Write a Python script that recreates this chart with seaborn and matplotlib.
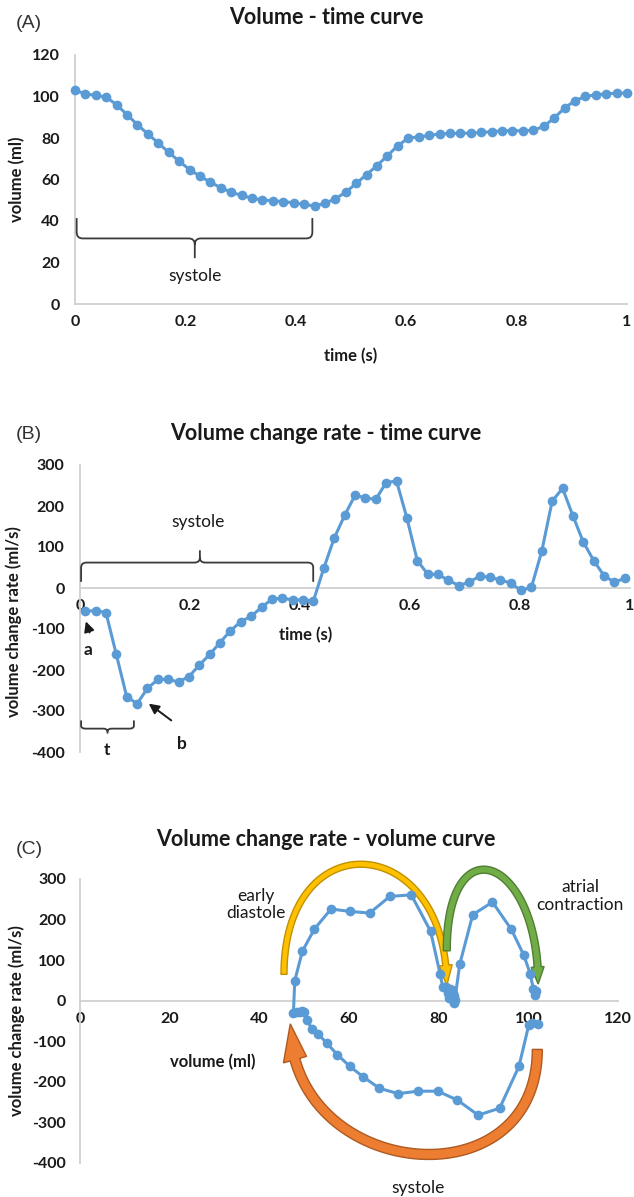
import numpy as np
import pandas as pd
import seaborn as sns
import matplotlib.pyplot as plt
from matplotlib.path import Path
from matplotlib.patches import PathPatch, Polygon

# frame times (s) over one cardiac cycle
time_s = [0.0, 0.0189, 0.0377, 0.0566, 0.0755, 0.0943, 0.1132, 0.1321, 0.1509, 0.1698,
          0.1887, 0.2075, 0.2264, 0.2453, 0.2642, 0.2830, 0.3019, 0.3208, 0.3396, 0.3585,
          0.3774, 0.3962, 0.4151, 0.4340, 0.4528, 0.4717, 0.4906, 0.5094, 0.5283, 0.5472,
          0.5660, 0.5849, 0.6038, 0.6226, 0.6415, 0.6604, 0.6792, 0.6981, 0.7170, 0.7358,
          0.7547, 0.7736, 0.7925, 0.8113, 0.8302, 0.8491, 0.8679, 0.8868, 0.9057, 0.9245,
          0.9434, 0.9623, 0.9811, 1.0]

# LV volume (ml)
volume_ml = [102.9, 101.3, 100.5, 99.7, 96.0, 91.2, 86.4, 81.9, 77.6, 73.1,
             68.8, 64.8, 61.6, 58.7, 56.0, 53.9, 52.3, 51.0, 50.1, 49.8,
             49.3, 48.8, 48.0, 47.2, 48.5, 50.7, 53.9, 58.1, 62.4, 66.7,
             71.5, 76.3, 80.0, 80.5, 81.3, 81.9, 82.2, 82.2, 82.4, 82.7,
             83.0, 83.5, 83.5, 83.5, 83.7, 85.6, 89.6, 94.4, 98.0, 100.0,
             100.8, 101.3, 101.6, 101.6]

# mid-frame times (s) for the rate curve
time_mid_s = [0.0094, 0.0283, 0.0472, 0.0660, 0.0849, 0.1038, 0.1226, 0.1415, 0.1604, 0.1792,
              0.1981, 0.2170, 0.2358, 0.2547, 0.2736, 0.2925, 0.3113, 0.3302, 0.3491, 0.3679,
              0.3868, 0.4057, 0.4245, 0.4434, 0.4623, 0.4811, 0.5000, 0.5189, 0.5377, 0.5566,
              0.5755, 0.5943, 0.6132, 0.6321, 0.6509, 0.6698, 0.6887, 0.7075, 0.7264, 0.7453,
              0.7642, 0.7830, 0.8019, 0.8208, 0.8396, 0.8585, 0.8774, 0.8962, 0.9151, 0.9340,
              0.9528, 0.9717, 0.9906]

# volume change rate (ml/s)
rate_mls = [-57, -55, -60, -162, -265, -282, -245, -223, -223, -229,
            -216, -188, -162, -133, -104, -82, -69, -47, -27, -25,
            -29, -29, -31, 49, 122, 177, 226, 220, 216, 257,
            261, 171, 67, 34, 33, 19, 6, 14, 29, 26,
            20, 12, -6, 2, 90, 212, 243, 176, 112, 67,
            30, 14, 24]

# mid-frame volumes (ml) for the rate - volume loop
volume_mid_ml = [102.1, 100.9, 100.1, 97.9, 93.6, 88.8, 84.2, 79.8, 75.4, 71.0,
                 66.8, 63.2, 60.2, 57.4, 55.0, 53.1, 51.7, 50.6, 50.0, 49.6,
                 49.1, 48.4, 47.6, 47.9, 49.6, 52.3, 56.0, 60.3, 64.6, 69.1,
                 73.9, 78.2, 80.3, 80.9, 81.6, 82.1, 82.2, 82.3, 82.6, 82.9,
                 83.3, 83.5, 83.5, 83.6, 84.7, 87.6, 92.0, 96.2, 99.0, 100.4,
                 101.1, 101.5, 101.6]

time_ticks = [0, 0.2, 0.4, 0.6, 0.8, 1]
time_labels = ['0', '0.2', '0.4', '0.6', '0.8', '1']

sns.set_style("white")
plt.rcParams['font.family'] = ['Lato', 'DejaVu Sans']

BLUE = '#5B9BD5'
GREY = '#D0D0D0'
TXT = '#1a1a1a'
W, H = 634, 1197

fig = plt.figure(figsize=(W / 100, H / 100), dpi=100)


def px_axes(x0, x1, ytop, ybot):
    return fig.add_axes([x0 / W, 1 - ybot / H, (x1 - x0) / W, (ybot - ytop) / H])


def style(ax, xpad, ypad):
    for s in ['top', 'right']:
        ax.spines[s].set_visible(False)
    for s in ['left', 'bottom']:
        ax.spines[s].set_color(GREY)
        ax.spines[s].set_linewidth(1.3)
    ax.tick_params(length=0, labelsize=11.5, labelcolor=TXT)
    ax.tick_params(axis='x', pad=xpad)
    ax.tick_params(axis='y', pad=ypad)


def curve(ax, df, x, y, sort=True):
    sns.lineplot(data=df, x=x, y=y, ax=ax, color=BLUE, marker='o', markersize=7,
                 markeredgewidth=0, linewidth=2.2, estimator=None, sort=sort,
                 legend=False, zorder=3, clip_on=False)


def labels(ax, xl, yl, xpos, ypos):
    ax.set_xlabel(xl, fontsize=12, fontweight='bold', color=TXT)
    ax.set_ylabel(yl, fontsize=12, fontweight='bold', color=TXT)
    ax.xaxis.label.set_verticalalignment('center')
    ax.yaxis.label.set_verticalalignment('center')
    ax.xaxis.set_label_coords(*xpos)
    ax.yaxis.set_label_coords(*ypos)


def brace(ax, x0, x1, xm, y_end, y_bar, y_tip, rx, ry):
    d = 1 if y_bar > y_end else -1
    verts = [(x0, y_end), (x0, y_bar - d * ry), (x0, y_bar), (x0 + rx, y_bar),
             (xm - rx, y_bar), (xm, y_bar), (xm, y_bar + d * ry), (xm, y_tip),
             (x1, y_end), (x1, y_bar - d * ry), (x1, y_bar), (x1 - rx, y_bar),
             (xm + rx, y_bar), (xm, y_bar), (xm, y_bar + d * ry)]
    codes = [Path.MOVETO, Path.LINETO, Path.CURVE3, Path.CURVE3, Path.LINETO,
             Path.CURVE3, Path.CURVE3, Path.LINETO,
             Path.MOVETO, Path.LINETO, Path.CURVE3, Path.CURVE3, Path.LINETO,
             Path.CURVE3, Path.CURVE3]
    ax.add_patch(PathPatch(Path(verts, codes), fc='none', ec='#3a3a3a', lw=1.3,
                           clip_on=False, zorder=4))


def arc_arrow(ax, start, end, apex_y, shaft, head_w, head_len, fc, ec):
    T = ax.transData
    p0 = T.transform(start)
    p3 = T.transform(end)
    apex = T.transform((0, apex_y))[1]
    k = (apex - (p0[1] + p3[1]) / 2) / 0.75
    c1 = p0 + [0, k]
    c2 = p3 + [0, k]
    t = np.linspace(0, 1, 500)[:, None]
    pts = (1 - t) ** 3 * p0 + 3 * (1 - t) ** 2 * t * c1 + 3 * (1 - t) * t ** 2 * c2 + t ** 3 * p3
    s = np.concatenate([[0], np.cumsum(np.hypot(*np.diff(pts, axis=0).T))])
    body = pts[s <= s[-1] - head_len]
    dv = np.gradient(body, axis=0)
    n = np.stack([-dv[:, 1], dv[:, 0]], axis=1)
    n /= np.linalg.norm(n, axis=1)[:, None]
    left = body + n * shaft / 2
    right = body - n * shaft / 2
    base, nb = body[-1], n[-1]
    head = [base + nb * head_w / 2, p3, base - nb * head_w / 2]
    poly = np.vstack([left, head, right[::-1]])
    ax.add_patch(Polygon(T.inverted().transform(poly), closed=True, fc=fc, ec=ec,
                         lw=1.0, zorder=2, clip_on=False))


# ---------- (A) volume - time ----------
axA = px_axes(75, 627, 55, 304)
curve(axA, pd.DataFrame({'time': time_s, 'volume': volume_ml}), 'time', 'volume')
axA.set_xlim(0, 1)
axA.set_ylim(0, 120)
axA.set_xticks(time_ticks, time_labels, fontweight='bold')
axA.set_yticks(range(0, 121, 20), [str(v) for v in range(0, 121, 20)], fontweight='bold')
style(axA, 8, 11)
labels(axA, 'time (s)', 'volume (ml)', (0.5, -0.21), (-0.105, 0.5))
brace(axA, 0.003, 0.43, 0.217, 41.4, 31.6, 22.1, 0.011, 3.0)
axA.text(0.217, 13.6, 'systole', ha='center', va='center', fontsize=12.5, color=TXT)

# ---------- (B) volume change rate - time ----------
axB = px_axes(80, 630, 465, 752)
curve(axB, pd.DataFrame({'time': time_mid_s, 'rate': rate_mls}), 'time', 'rate')
axB.set_xlim(0, 1)
axB.set_ylim(-400, 300)
axB.spines['bottom'].set_position(('data', 0))
axB.set_xticks(time_ticks, time_labels, fontweight='bold')
axB.set_yticks(range(-400, 301, 100), [str(v) for v in range(-400, 301, 100)], fontweight='bold')
style(axB, 8, 11)
labels(axB, 'time (s)', 'volume change rate (ml/s)', (0.411, 0.408), (-0.12, 0.453))
brace(axB, 0.002, 0.424, 0.218, 15, 62, 92, 0.010, 12)
axB.text(0.215, 161, 'systole', ha='center', va='center', fontsize=12.5, color=TXT)
brace(axB, 0.002, 0.098, 0.05, -323, -343, -355, 0.008, 7)
axB.text(0.05, -396, 't', ha='center', va='center', fontsize=12.5, fontweight='bold',
         color=TXT, clip_on=False)
axB.annotate('', xy=(0.009, -75), xytext=(0.019, -115),
             arrowprops=dict(arrowstyle='-|>', color='#1a1a1a', lw=1.4, mutation_scale=15))
axB.text(0.015, -152, 'a', ha='center', va='center', fontsize=12.5, fontweight='bold', color=TXT)
axB.annotate('', xy=(0.121, -278), xytext=(0.170, -327),
             arrowprops=dict(arrowstyle='-|>', color='#1a1a1a', lw=1.4, mutation_scale=15))
axB.text(0.185, -380, 'b', ha='center', va='center', fontsize=12.5, fontweight='bold', color=TXT)

# ---------- (C) volume change rate - volume ----------
axC = px_axes(80, 618, 879, 1163)
axC.set_xlim(0, 120)
axC.set_ylim(-400, 300)
curve(axC, pd.DataFrame({'volume': volume_mid_ml, 'rate': rate_mls}), 'volume', 'rate', sort=False)
axC.spines['bottom'].set_position(('data', 0))
axC.set_xticks(range(0, 121, 20), [str(v) for v in range(0, 121, 20)], fontweight='bold')
axC.set_yticks(range(-400, 301, 100), [str(v) for v in range(-400, 301, 100)], fontweight='bold')
style(axC, 8, 10)
labels(axC, 'volume (ml)', 'volume change rate (ml/s)', (0.247, 0.356), (-0.118, 0.5))
fig.canvas.draw()
arc_arrow(axC, (45.5, 65), (81.8, 37), 336, 6, 13, 20, '#FFC000', '#C09000')
arc_arrow(axC, (81.8, 123), (102.2, 41), 319, 7, 13, 17, '#70AD47', '#507E32')
arc_arrow(axC, (102.0, -120), (46.9, -57), -377, 10, 24, 36, '#ED7D31', '#AE5A21')
axC.text(39.2, 238, 'early\ndiastole', ha='center', va='center', fontsize=12.5,
         color=TXT, linespacing=1.1)
axC.text(111.5, 258, 'atrial\ncontraction', ha='center', va='center', fontsize=12.5,
         color=TXT, linespacing=1.1, clip_on=False)
axC.text(75.5, -462, 'systole', ha='center', va='center', fontsize=12.5, color=TXT,
         clip_on=False)

# titles and panel letters
for y_title, y_letter, title, letter in [(18, 23, 'Volume - time curve', '(A)'),
                                          (433, 435, 'Volume change rate - time curve', '(B)'),
                                          (840, 850, 'Volume change rate - volume curve', '(C)')]:
    fig.text(326 / W, 1 - y_title / H, title, ha='center', va='center', fontsize=15.5,
             fontweight='bold', color=TXT)
    fig.text(29 / W, 1 - y_letter / H, letter, ha='center', va='center', fontsize=14,
             color='#333333', family=['Liberation Sans', 'DejaVu Sans'])

fig.savefig('out.png', dpi=100, facecolor='white')
